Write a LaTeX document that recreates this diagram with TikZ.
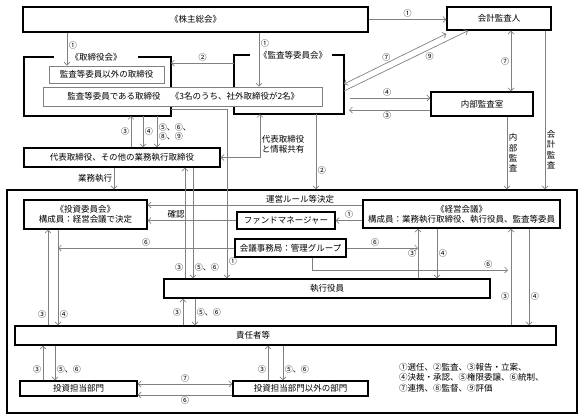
\documentclass[tikz,border=0pt]{standalone}
\usepackage{fontspec}
\setmainfont{Noto Sans CJK JP}
\usetikzlibrary{positioning,arrows}
\usetikzlibrary{arrows.meta}

\begin{document}
\begin{tikzpicture}[x=1pt,y=-1pt,>={Straight Barb[length=3pt,width=6pt]}]
	\useasboundingbox (0,0) rectangle (587,418);
	\tikzstyle{every node}=[font=\fontsize{8.5}{10}\selectfont, inner sep=1pt]
	\tikzstyle{box}=[draw, line width=1.4pt]
	\tikzstyle{thinbox}=[draw=gray, line width=0.7pt, fill=white]
	\tikzstyle{frame}=[outer sep=0pt]
	\tikzstyle{conn}=[draw=gray, line width=0.7pt]
	% upper part
	\draw (195.5,19.5) node (kabu) [box, minimum width=345, minimum height=25] {《株主総会》};
	\draw (499,18.5) node (kaikei) [box, minimum width=104, minimum height=23] {会計監査人};
	\draw (97.5,86.5) node (bodf) [frame, minimum width=147, minimum height=59] {};
	\draw (289,84.5) node (acomf) [frame, minimum width=110, minimum height=59] {};
	\draw [line width=1.4pt] ([xshift=30]bodf.north west) -- (bodf.north west) -- (bodf.south west) -- (bodf.south east) -- (bodf.north east) -- ([xshift=-33]bodf.north east);
	\draw [line width=1.4pt] ([xshift=16]acomf.north west) -- (acomf.north west) -- (acomf.south west) -- (acomf.south east) -- (acomf.north east) -- ([xshift=-12]acomf.north east);
	\draw (96,57) node (bodlbl) {《取締役会》};
	\draw (293,55) node (acomlbl) {《監査等委員会》};
	\draw (106.5,74.5) node (otherdir) [thinbox, minimum width=115, minimum height=17] {監査等委員以外の取締役};
	\draw (182.5,96.5) node (acdir) [thinbox, minimum width=279, minimum height=19] {};
	\draw (114,96.5) node (acdirtxt) {監査等委員である取締役};
	\draw (235,96.5) node (acdirnote) {《3名のうち、社外取締役が2名》};
	\draw (122,157.5) node (daihyo) [box, minimum width=196, minimum height=19] {代表取締役、その他の業務執行取締役};
	\draw (482,104) node (naibu) [box, minimum width=102, minimum height=24] {内部監査室};
	% lower part
	\draw (292,301.5) node (bigf) [box, minimum width=570, minimum height=223] {};
	\draw (85.5,214.5) node (toushi) [box, align=center, minimum width=123, minimum height=29] {《投資委員会》\\構成員：経営会議で決定};
	\draw (461.5,214) node (keiei) [box, align=center, minimum width=197, minimum height=28] {《経営会議》\\構成員：業務執行取締役、執行役員、監査等委員};
	\draw (286,220.5) node (fund) [box, minimum width=98, minimum height=17] {ファンドマネージャー};
	\draw (290.5,248) node (jimu) [box, minimum width=111, minimum height=18] {会議事務局：管理グループ};
	\draw (327,288.5) node (shikkou) [box, minimum width=326, minimum height=19] {執行役員};
	\draw (285.5,335.5) node (sekinin) [box, minimum width=541, minimum height=19] {};
	\draw (253,335.5) node (sekinintxt) {責任者等};
	\draw (78.5,388.5) node (tbu) [box, minimum width=117, minimum height=15] {投資担当部門};
	\draw (300.5,388.5) node (others) [box, minimum width=135, minimum height=15] {投資担当部門以外の部門};
	\draw (398,362) node (legend) [anchor=north west, align=left, font=\fontsize{8.5}{10.5}\selectfont] {①選任、②監査、③報告・立案、\\④決裁・承認、⑤権限委譲、⑥統制、\\⑦連携、⑧監督、⑨評価};
	\coordinate (end6) at (508,270);
	\tikzstyle{every node}=[font=\fontsize{8}{9}\selectfont, inner sep=1.5pt]
	\tikzstyle{txt}=[font=\fontsize{8.5}{10.3}\selectfont]
	\draw [conn,->] (kabu.east) to node[above] {①} (kabu.east -| kaikei.west);
	\draw [conn,->] (67,0 |- kabu.south) to node[right, pos=0.4] {①} (67,0 |- otherdir.north);
	\draw [conn,->] (259,0 |- kabu.south) to node[right, pos=0.2] {①} (259,0 |- acdir.north);
	\draw [conn,->] (acomf.west |- 0,63) to node[above] {②} (bodf.east |- 0,63);
	\draw [conn,<->] (acomf.east |- 0,84) to node[pos=0.45, above left=-3pt] {⑦} ([yshift=-3]kaikei.south west);
	\draw [conn,->] (acomf.east |- 0,91) to node[pos=0.65, below right=-1pt] {⑨} (468,0 |- kaikei.south);
	\draw [conn,<->] (511,0 |- kaikei.south) to node[left] {⑦} (511,0 |- naibu.north);
	\draw [conn,->,shorten <=6pt] (acomf.east |- 0,98) to node[above] {④} (naibu.west |- 0,98);
	\draw [conn,->,shorten >=5pt] (naibu.west |- 0,110) to node[below] {③} (acomf.east |- 0,110);
	\draw [conn,->] (545,0 |- kaikei.south) to node[right, pos=0.75, align=center, txt] {会\\計\\監\\査} (545,0 |- bigf.north);
	\draw [conn,->] (507,0 |- naibu.south) to node[right, align=center, txt] {内\\部\\監\\査} (507,0 |- bigf.north);
	\draw [conn,->] (316,0 |- acomf.south) to node[right, pos=0.75] {②} (316,0 |- bigf.north);
	\draw [conn,<->] (260,0 |- acomf.south) |- node[right, pos=0.35, align=left, txt] {代表取締役\\と情報共有} (daihyo.east);
	\draw [conn,->] (131,0 |- daihyo.north) to node[left] {③} (131,0 |- bodf.south);
	\draw [conn,->] (143,0 |- bodf.south) to node[right] {④} (143,0 |- daihyo.north);
	\draw [conn,->] (157,0 |- bodf.south) to node[right, align=left] {⑤、⑥、\\⑧、⑨} (157,0 |- daihyo.north);
	\draw [conn,->] (bodf.east |- 0,109) -| node[right, pos=0.95] {①} (227,0 |- shikkou.north);
	\draw [conn,->] (185,0 |- shikkou.north) to node[left, pos=0.1] {③} (185,0 |- daihyo.south);
	\draw [conn,->] (193,0 |- daihyo.south) to node[right, pos=0.9] {⑤、⑥} (193,0 |- shikkou.north);
	\draw [conn,->] (114,0 |- daihyo.south) to node[left, txt] {業務執行} (114,0 |- bigf.north);
	\draw [conn,->] (keiei.west |- 0,205) to node[above, pos=0.29, txt] {運営ルール等決定} (toushi.east |- 0,205);
	\draw [conn,->] (keiei.west |- fund.east) to node[above] {①} (fund.east);
	\draw [conn,->] (fund.west) to node[above, pos=0.68, txt] {確認} (fund.west -| toushi.east);
	\draw [conn,->] (jimu.west) to node[above] {⑥} (58,0 |- jimu.west);
	\draw [conn,->] (jimu.east) to node[above, pos=0.4] {⑥} (418,0 |- jimu.east);
	\draw [conn,->] (312,0 |- jimu.south) |- node[above, pos=0.95] {⑥} (end6);
	\draw [conn,->] (418,0 |- shikkou.north) to node[left] {③} (418,0 |- keiei.south);
	\draw [conn,->] (437,0 |- keiei.south) to node[right] {④} (437,0 |- shikkou.north);
	\draw [conn,->] (511,0 |- sekinin.north) to node[left, pos=0.3] {③} (511,0 |- keiei.south);
	\draw [conn,->] (529,0 |- keiei.south) to node[right, pos=0.7] {④} (529,0 |- sekinin.north);
	\draw [conn,->] (48,0 |- sekinin.north) to node[left, pos=0.11] {③} (48,0 |- toushi.south);
	\draw [conn,->] (58,0 |- toushi.south) to node[right, pos=0.89] {④} (58,0 |- sekinin.north);
	\draw [conn,->] (183,0 |- sekinin.north) to node[left] {③} (183,0 |- shikkou.south);
	\draw [conn,->] (195,0 |- shikkou.south) to node[right] {⑤、⑥} (195,0 |- sekinin.north);
	\draw [conn,->] (43,0 |- tbu.north) to node[left, pos=0.3] {③} (43,0 |- sekinin.south);
	\draw [conn,->] (55,0 |- sekinin.south) to node[right, pos=0.7] {⑤、⑥} (55,0 |- tbu.north);
	\draw [conn,->] (268,0 |- others.north) to node[left, pos=0.3] {③} (268,0 |- sekinin.south);
	\draw [conn,->] (283,0 |- sekinin.south) to node[right, pos=0.7] {⑤、⑥} (283,0 |- others.north);
	\draw [conn,<->] (tbu.east |- 0,384) to node[above] {⑦} (others.west |- 0,384);
	\draw [conn,->] (others.west |- 0,395) to node[below] {⑥} (tbu.east |- 0,395);
\end{tikzpicture}
\end{document}
